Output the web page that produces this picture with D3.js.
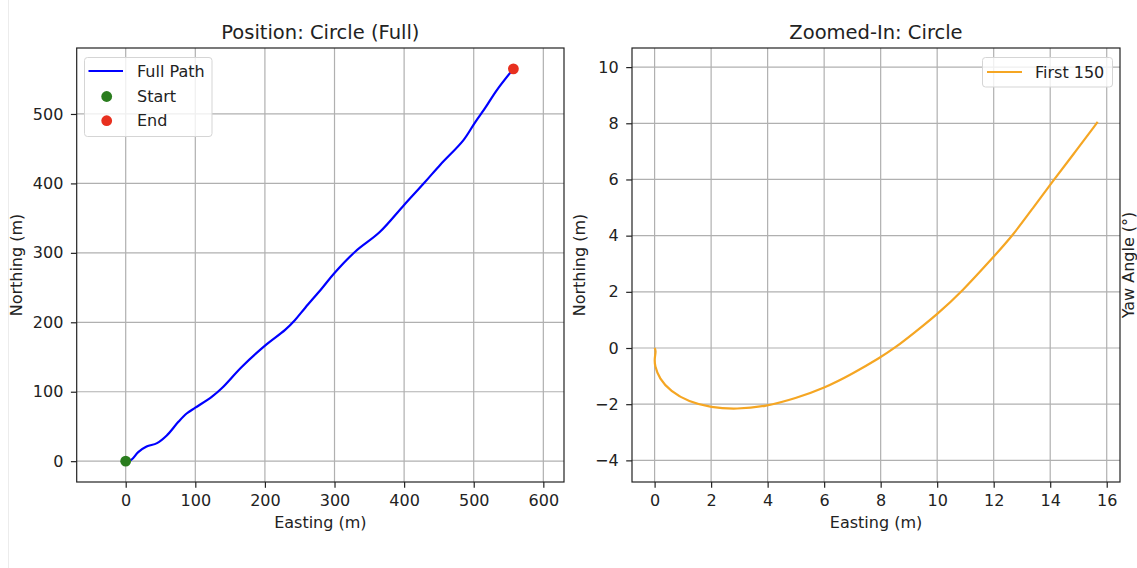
<!DOCTYPE html>
<html>
<head>
<meta charset="utf-8">
<script src="https://cdn.jsdelivr.net/npm/d3@7"></script>
<style>
  body { margin: 0; background: #fff; }
  text { font-family: "DejaVu Sans", sans-serif; fill: #222; }
</style>
</head>
<body>
<svg id="chart" width="1137" height="568"></svg>
<script>
// full trajectory, easting / northing in metres
const fullEast = [0, 8, 18, 30, 45, 59, 76, 88, 100, 124, 138, 167, 201, 229, 243, 258, 282, 300, 330, 365, 400, 430, 452, 485, 502, 516, 533, 557];
const fullNorth = [0, 2, 13, 21, 26, 37, 57, 69, 77, 93, 105, 136, 167, 189, 203, 221, 249, 271, 302, 330, 369, 402, 427, 462, 488, 508, 534, 565];

// first 150 samples, zoomed in
const zoomEast = [0, 0.05, 0, 0, 0.17, 0.56, 1.21, 1.99, 2.9, 3.94, 4.99, 6, 7, 8, 8.5, 9.2, 10, 10.87, 12, 12.67, 13.4, 14.1, 14.9, 15.68];
const zoomNorth = [0, -0.1, -0.35, -0.63, -1.09, -1.54, -1.92, -2.12, -2.18, -2.08, -1.79, -1.43, -0.92, -0.33, 0, 0.55, 1.2, 2, 3.25, 4, 5, 5.95, 7, 8.05];

const fullTicksX = [0, 100, 200, 300, 400, 500, 600];
const fullTicksY = [0, 100, 200, 300, 400, 500];
const zoomTicksX = [0, 2, 4, 6, 8, 10, 12, 14, 16];
const zoomTicksY = [-4, -2, 0, 2, 4, 6, 8, 10];

const svg = d3.select("#chart");
const fmt = (d) => String(d).replace("-", "\u2212");
const FS = "16px";

// faint page edge on the left
svg.append("line")
  .attr("x1", 8.5).attr("x2", 8.5).attr("y1", 0).attr("y2", 568)
  .attr("stroke", "#ececec");

function drawPanel(opts) {
  const x = d3.scaleLinear().domain(opts.xDomain).range([opts.left, opts.right]);
  const y = d3.scaleLinear().domain(opts.yDomain).range([opts.bottom, opts.top]);
  const g = svg.append("g");

  // grid
  g.append("g").selectAll("line").data(opts.xTicks).join("line")
    .attr("x1", (d) => x(d)).attr("x2", (d) => x(d))
    .attr("y1", opts.top).attr("y2", opts.bottom)
    .attr("stroke", "#b0b0b0").attr("stroke-width", 1.2);
  g.append("g").selectAll("line").data(opts.yTicks).join("line")
    .attr("y1", (d) => y(d)).attr("y2", (d) => y(d))
    .attr("x1", opts.left).attr("x2", opts.right)
    .attr("stroke", "#b0b0b0").attr("stroke-width", 1.2);

  // data line
  const pts = opts.xs.map((v, i) => [v, opts.ys[i]]);
  g.append("path")
    .datum(pts)
    .attr("fill", "none")
    .attr("stroke", opts.color)
    .attr("stroke-width", 2.2)
    .attr("stroke-linejoin", "round")
    .attr("d", d3.line().x((d) => x(d[0])).y((d) => y(d[1])).curve(opts.curve));

  if (opts.markers) {
    const first = pts[0], last = pts[pts.length - 1];
    g.append("circle").attr("cx", x(first[0])).attr("cy", y(first[1])).attr("r", 5.4).attr("fill", "#2a7d1e");
    g.append("circle").attr("cx", x(last[0])).attr("cy", y(last[1])).attr("r", 5.4).attr("fill", "#e8301f");
  }

  // axes
  const xAxis = d3.axisBottom(x).tickValues(opts.xTicks).tickFormat(fmt).tickSize(5.8).tickPadding(6.8);
  const yAxis = d3.axisLeft(y).tickValues(opts.yTicks).tickFormat(fmt).tickSize(5.8).tickPadding(7.5);
  const gx = g.append("g").attr("transform", `translate(0,${opts.bottom})`).call(xAxis);
  const gy = g.append("g").attr("transform", `translate(${opts.left},0)`).call(yAxis);
  [gx, gy].forEach((a) => {
    a.select(".domain").remove();
    a.selectAll("line").attr("stroke", "#222").attr("stroke-width", 1.2);
    a.selectAll("text").style("font-size", FS).style("font-family", "DejaVu Sans").attr("fill", "#222");
  });

  // frame
  g.append("rect")
    .attr("x", opts.left).attr("y", opts.top)
    .attr("width", opts.right - opts.left).attr("height", opts.bottom - opts.top)
    .attr("fill", "none").attr("stroke", "#222").attr("stroke-width", 1.2);

  // titles and labels
  const cx = (opts.left + opts.right) / 2;
  g.append("text").attr("x", cx).attr("y", 39).attr("text-anchor", "middle")
    .style("font-size", "19.5px").text(opts.title);
  g.append("text").attr("x", cx).attr("y", 528).attr("text-anchor", "middle")
    .style("font-size", FS).text("Easting (m)");
  g.append("text")
    .attr("transform", `translate(${opts.ylabelX},265) rotate(-90)`)
    .attr("text-anchor", "middle")
    .style("font-size", FS).text("Northing (m)");

  return { x, y, g };
}

const left = drawPanel({
  left: 76.7, right: 564, top: 48, bottom: 482,
  xDomain: [-70.4, 629.7], yDomain: [-30, 595],
  xTicks: fullTicksX, yTicks: fullTicksY,
  xs: fullEast, ys: fullNorth, color: "#0000ff", curve: d3.curveCatmullRom,
  markers: true, title: "Position: Circle (Full)", ylabelX: 21.5
});

const right = drawPanel({
  left: 632, right: 1120, top: 48, bottom: 482,
  xDomain: [-0.8, 16.47], yDomain: [-4.77, 10.68],
  xTicks: zoomTicksX, yTicks: zoomTicksY,
  xs: zoomEast, ys: zoomNorth, color: "#f5a623", curve: d3.curveBasis,
  markers: false, title: "Zoomed-In: Circle", ylabelX: 585
});

// legend: full path
const lg1 = svg.append("g");
lg1.append("rect").attr("x", 84.5).attr("y", 57.5).attr("width", 127.5).attr("height", 79)
  .attr("rx", 3).attr("fill", "#fff").attr("fill-opacity", 0.8).attr("stroke", "#d5d5d5");
lg1.append("line").attr("x1", 88.5).attr("x2", 123).attr("y1", 71).attr("y2", 71)
  .attr("stroke", "#0000ff").attr("stroke-width", 2.2);
lg1.append("circle").attr("cx", 106.7).attr("cy", 96.5).attr("r", 5.4).attr("fill", "#2a7d1e");
lg1.append("circle").attr("cx", 106.7).attr("cy", 120.7).attr("r", 5.4).attr("fill", "#e8301f");
[["Full Path", 71], ["Start", 96.5], ["End", 120.7]].forEach(([t, yy]) => {
  lg1.append("text").attr("x", 137).attr("y", yy).attr("dy", "0.35em")
    .style("font-size", FS).text(t);
});

// legend: first 150
const lg2 = svg.append("g");
lg2.append("rect").attr("x", 982.5).attr("y", 57.5).attr("width", 130).attr("height", 29.5)
  .attr("rx", 3).attr("fill", "#fff").attr("fill-opacity", 0.8).attr("stroke", "#d5d5d5");
lg2.append("line").attr("x1", 987).attr("x2", 1022).attr("y1", 72).attr("y2", 72)
  .attr("stroke", "#f5a623").attr("stroke-width", 2.2);
lg2.append("text").attr("x", 1035).attr("y", 72).attr("dy", "0.35em")
  .style("font-size", FS).text("First 150");

// clipped label of the neighbouring yaw plot
svg.append("text")
  .attr("transform", "translate(1134,265) rotate(-90)")
  .attr("text-anchor", "middle")
  .style("font-size", FS).text("Yaw Angle (°)");
</script>
</body>
</html>
